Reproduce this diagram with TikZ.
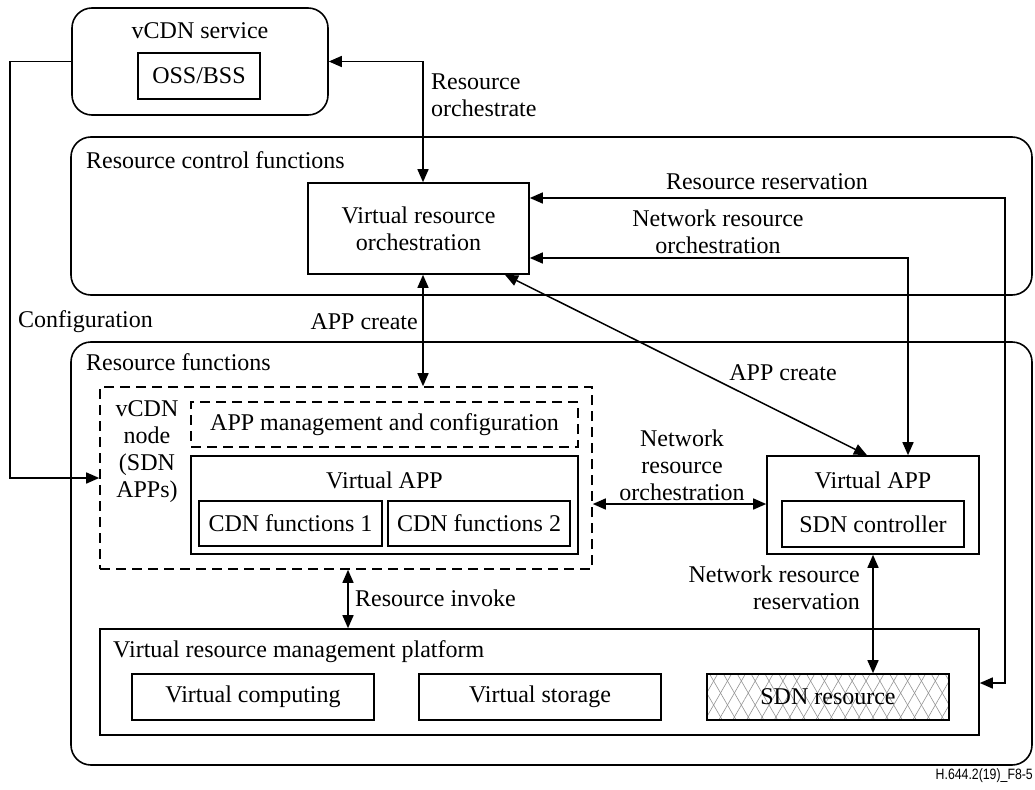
\documentclass[tikz,border=0pt]{standalone}
\usepackage{fontspec}
\setmainfont{Liberation Serif}
\newfontfamily\labelsans{Liberation Sans}
\usetikzlibrary{arrows.meta,patterns.meta,calc}
\begin{document}
\begin{tikzpicture}[x=1pt,y=-1pt,
  every node/.style={font=\fontsize{24}{27}\selectfont, inner sep=0pt},
  box/.style={draw, line width=1.6pt, rectangle},
  rbox/.style={box, rounded corners=20pt},
  dbox/.style={box, dash pattern=on 10pt off 6pt},
  conn/.style={line width=1.5pt},
  lbl/.style={align=center},
  >={Triangle[length=13pt,width=11pt]},
  hatch/.style={preaction={pattern={Lines[angle=60,distance=12pt,line width=0.6pt]},pattern color=gray!85},
                preaction={pattern={Lines[angle=120,distance=12pt,line width=0.6pt]},pattern color=gray!85}}
]
\useasboundingbox (0,0) rectangle (1035,789);

% containers
\node[rbox, minimum width=256pt, minimum height=107pt] (vcdn) at (200,61.5) {};
\node (vcdnlbl) at (200,31) {vCDN service};
\node[box, minimum width=122pt, minimum height=46pt] (oss) at (199,76) {OSS/BSS};

\node[rbox, minimum width=961pt, minimum height=158pt] (rcf) at (551.5,216) {};
\node[anchor=west] (rcflbl) at (86,160) {Resource control functions};
\node[box, lbl, minimum width=221pt, minimum height=91pt] (vro) at (418.5,228.5) {Virtual resource\\orchestration};

\node[rbox, minimum width=961pt, minimum height=423pt] (rf) at (551.5,553.5) {};
\node[anchor=west] (rflbl) at (86,362) {Resource functions};

\node[dbox, minimum width=492pt, minimum height=182pt] (vnode) at (346,478) {};
\node[lbl] (vnodelbl) at (147,452) {vCDN\\node\\(SDN\\APPs)};
\node[dbox, minimum width=387pt, minimum height=45pt] (mgmt) at (384.5,424.5) {APP management and configuration};
\node[box, minimum width=387pt, minimum height=98pt] (vapp1) at (384.5,505) {};
\node (vapp1lbl) at (384.5,480) {Virtual APP};
\node[box, minimum width=183pt, minimum height=45pt] (cdn1) at (290.5,523.5) {CDN functions 1};
\node[box, minimum width=182pt, minimum height=45pt] (cdn2) at (479,523.5) {CDN functions 2};

\node[box, minimum width=212pt, minimum height=98pt] (vapp2) at (873,505) {};
\node (vapp2lbl) at (873,480) {Virtual APP};
\node[box, minimum width=182pt, minimum height=46pt] (sdnc) at (873,524) {SDN controller};

\node[box, minimum width=879pt, minimum height=106pt] (vrmp) at (539.5,682) {};
\node[anchor=west] (vrmplbl) at (113,652) {Virtual resource management platform};
\node[box, minimum width=242pt, minimum height=46pt] (vcomp) at (253,697) {Virtual computing};
\node[box, minimum width=242pt, minimum height=46pt] (vstor) at (540,697) {Virtual storage};
\node[box, hatch, minimum width=242pt, minimum height=46pt] (sdnr) at (828,697) {SDN resource};

% helper coordinates
\coordinate (cfgx) at (10,0);
\coordinate (rox) at (423,0);
\coordinate (rr) at (1005,198);
\coordinate (rrb) at (1005,683);
\coordinate (nro) at (908,258);
\coordinate (diagA) at (505,0);
\coordinate (diagB) at (867,0);
\coordinate (nh) at (0,504);
\coordinate (rix) at (348,0);

% connectors
\draw[conn,->] (vcdn.west) -- (vcdn.west -| cfgx) |- (vnode.west);
\draw[conn,<->] (vcdn.east) -- (vcdn.east -| rox) -- (rox |- vro.north);
\draw[conn,<->] (rox |- vro.south) -- (rox |- vnode.north);
\draw[conn,<->] (rr -| vro.east) -- (rr) -- (rrb) -- (rrb -| vrmp.east);
\draw[conn,<->] (nro -| vro.east) -- (nro) -- (nro |- vapp2.north);
\draw[conn,<->] (vro.south -| diagA) -- (vapp2.north -| diagB);
\draw[conn,<->] (vnode.east |- nh) -- (vapp2.west |- nh);
\draw[conn,<->] (vapp2.south) -- (vapp2.south |- sdnr.north);
\draw[conn,<->] (rix |- vnode.south) -- (rix |- vrmp.north);

% connector labels
\node[align=left, anchor=west] (l1) at (431,95) {Resource\\orchestrate};
\node (l2) at (767,182) {Resource reservation};
\node[lbl] (l3) at (718,232) {Network resource\\orchestration};
\node[anchor=west] (l4) at (18,322) {Configuration};
\node[anchor=east] (l5) at (418,322) {APP create};
\node (l6) at (783,373) {APP create};
\node[lbl] (l7) at (682,465) {Network\\resource\\orchestration};
\node[align=right, anchor=east] (l8) at (860,588) {Network resource\\reservation};
\node[anchor=west] (l9) at (355,598) {Resource invoke};

\node[anchor=east, font=\labelsans\fontsize{15}{17}\selectfont] (fig) at (1033,776) {\scalebox{0.82}[1]{H.644.2(19)\_F8-5}};
\end{tikzpicture}
\end{document}
